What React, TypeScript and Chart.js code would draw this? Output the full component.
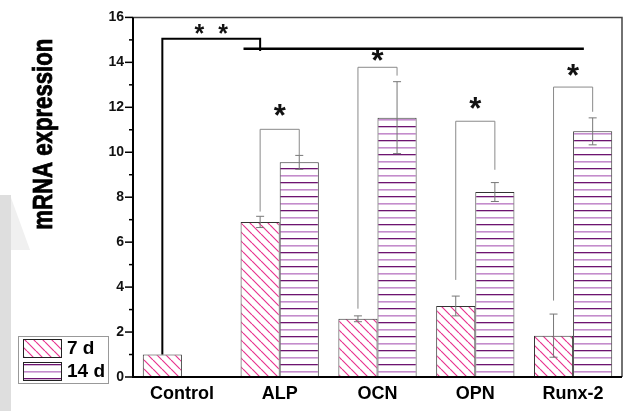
import React, { useEffect, useRef } from "react";
import { Chart, registerables } from "chart.js";

Chart.register(...registerables);

const categories = ["Control", "ALP", "OCN", "OPN", "Runx-2"];
const d7Values = [1.0, 6.9, 2.59, 3.16, 1.84];
const d7Errors = [0, 0.25, 0.13, 0.44, 0.96];
const d14Values: (number | null)[] = [null, 9.55, 11.54, 8.23, 10.93];
const d14Errors = [0, 0.31, 1.6, 0.42, 0.6];
const seriesLabels = ["7 d", "14 d"];

// significance brackets (category index, values in data units)
const bracketIndex = [1, 2, 3, 4];
const bracketTop = [11.02, 13.78, 11.38, 12.9];
const bracketLeftEnd = [7.36, 3.04, 4.32, 3.4];
const bracketRightEnd = [9.87, 13.41, 9.22, 11.8];
const starY = [11.64, 14.1, 11.99, 13.44];

// control vs. all bracket
const controlLineY = 15.05;
const groupLineY = 14.6;
const groupLineStart = 0.63;
const groupLineEnd = 4.11;
const doubleStarX = 0.3;
const doubleStarY = 15.3;

const yTitle = "mRNA expression";

function makeDiagPattern(): CanvasPattern | string {
  const c = document.createElement("canvas");
  const s = 9;
  c.width = s;
  c.height = s;
  const g = c.getContext("2d")!;
  g.fillStyle = "#ffffff";
  g.fillRect(0, 0, s, s);
  g.strokeStyle = "#e8338f";
  g.lineWidth = 1.2;
  g.beginPath();
  for (const o of [-s, 0, s]) {
    g.moveTo(o, 0);
    g.lineTo(o + s, s);
  }
  g.stroke();
  return g.createPattern(c, "repeat") || "#e8338f";
}

function makeHorzPattern(): CanvasPattern | string {
  const c = document.createElement("canvas");
  c.width = 4;
  c.height = 14;
  const g = c.getContext("2d")!;
  g.fillStyle = "#ffffff";
  g.fillRect(0, 0, 4, 14);
  g.fillStyle = "#6e1470";
  g.fillRect(0, 0, 4, 1.3);
  g.fillStyle = "#c48ccc";
  g.fillRect(0, 7, 4, 1.6);
  return g.createPattern(c, "repeat") || "#6e1470";
}

export default function App() {
  const ref = useRef<HTMLCanvasElement>(null);
  useEffect(() => {
    document.body.style.margin = "0";
    const canvas = ref.current!;
    const diag = makeDiagPattern();
    const horz = makeHorzPattern();

    const decor = {
      id: "decor",
      beforeDraw(chart: any) {
        const ctx = chart.ctx;
        ctx.save();
        ctx.fillStyle = "#ffffff";
        ctx.fillRect(0, 0, chart.width, chart.height);
        ctx.fillStyle = "#f0f0f0";
        ctx.beginPath();
        ctx.moveTo(10, 195);
        ctx.lineTo(30, 250);
        ctx.lineTo(10, 250);
        ctx.closePath();
        ctx.fill();
        ctx.fillStyle = "#dedede";
        ctx.fillRect(0, 195, 11, chart.height - 195);
        ctx.restore();
      },
      afterDatasetsDraw(chart: any) {
        const ctx = chart.ctx;
        const xs = chart.scales.x;
        const ys = chart.scales.y;
        const area = chart.chartArea;
        const m0 = chart.getDatasetMeta(0);
        const m1 = chart.getDatasetMeta(1);
        ctx.save();

        // error bars
        const drawErr = (meta: any, vals: any[], errs: number[]) => {
          vals.forEach((v, i) => {
            if (v == null || !errs[i]) return;
            const x = meta.data[i].x;
            const yt = ys.getPixelForValue(v + errs[i]);
            const yb = ys.getPixelForValue(v - errs[i]);
            ctx.strokeStyle = "#777";
            ctx.lineWidth = 1;
            ctx.beginPath();
            ctx.moveTo(x, yt);
            ctx.lineTo(x, yb);
            ctx.moveTo(x - 4, yt);
            ctx.lineTo(x + 4, yt);
            ctx.moveTo(x - 4, yb);
            ctx.lineTo(x + 4, yb);
            ctx.stroke();
          });
        };
        drawErr(m0, d7Values, d7Errors);
        drawErr(m1, d14Values, d14Errors);

        // gray brackets
        bracketIndex.forEach((ci, k) => {
          const xl = m0.data[ci].x;
          const xr = m1.data[ci].x;
          const yt = ys.getPixelForValue(bracketTop[k]);
          ctx.strokeStyle = "#8a8a8a";
          ctx.lineWidth = 1;
          ctx.beginPath();
          ctx.moveTo(xl, ys.getPixelForValue(bracketLeftEnd[k]));
          ctx.lineTo(xl, yt);
          ctx.lineTo(xr, yt);
          ctx.lineTo(xr, ys.getPixelForValue(bracketRightEnd[k]));
          ctx.stroke();
          ctx.fillStyle = "#111";
          ctx.font = "bold 31px 'Liberation Sans', Arial, sans-serif";
          ctx.textAlign = "center";
          ctx.textBaseline = "alphabetic";
          ctx.fillText("*", (xl + xr) / 2, ys.getPixelForValue(starY[k]) + 11);
        });

        // black control bracket
        const cx = m0.data[0].x;
        const ax = m0.data[1].x;
        const yc = ys.getPixelForValue(controlLineY);
        ctx.strokeStyle = "#000";
        ctx.lineWidth = 2;
        ctx.beginPath();
        ctx.moveTo(cx, ys.getPixelForValue(d7Values[0]));
        ctx.lineTo(cx, yc);
        ctx.lineTo(ax, yc);
        ctx.moveTo(ax, yc - 1);
        ctx.lineTo(ax, ys.getPixelForValue(groupLineY - 0.1));
        ctx.stroke();
        ctx.lineWidth = 2.5;
        const yg = ys.getPixelForValue(groupLineY);
        ctx.beginPath();
        ctx.moveTo(xs.getPixelForValue(groupLineStart), yg);
        ctx.lineTo(xs.getPixelForValue(groupLineEnd), yg);
        ctx.stroke();
        ctx.fillStyle = "#111";
        ctx.font = "bold 25px 'Liberation Sans', Arial, sans-serif";
        ctx.textAlign = "center";
        ctx.fillText("*  *", xs.getPixelForValue(doubleStarX), ys.getPixelForValue(doubleStarY) + 9);

        // frame
        ctx.lineWidth = 1.5;
        ctx.strokeStyle = "#444";
        ctx.beginPath();
        ctx.moveTo(area.left, area.top);
        ctx.lineTo(area.right, area.top);
        ctx.lineTo(area.right, area.bottom);
        ctx.stroke();
        ctx.lineWidth = 2;
        ctx.strokeStyle = "#000";
        ctx.beginPath();
        ctx.moveTo(area.left, area.top);
        ctx.lineTo(area.left, area.bottom);
        ctx.lineTo(area.right, area.bottom);
        ctx.stroke();

        // y ticks
        ctx.lineWidth = 1.5;
        for (let v = ys.min; v <= ys.max; v += 1) {
          const y = ys.getPixelForValue(v);
          const len = v % 2 === 0 ? 8 : 4;
          ctx.beginPath();
          ctx.moveTo(area.left - len, y);
          ctx.lineTo(area.left, y);
          ctx.stroke();
        }

        // y title
        ctx.save();
        ctx.font = "bold 27px 'Liberation Sans', Arial, sans-serif";
        const w = ctx.measureText(yTitle).width;
        ctx.translate(52, (area.top + area.bottom) / 2 - 63);
        ctx.rotate(-Math.PI / 2);
        ctx.scale(191 / w, 1);
        ctx.textAlign = "center";
        ctx.textBaseline = "alphabetic";
        ctx.fillStyle = "#000";
        ctx.lineWidth = 0.8;
        ctx.strokeStyle = "#000";
        ctx.fillText(yTitle, 0, 0);
        ctx.strokeText(yTitle, 0, 0);
        ctx.restore();

        // legend
        ctx.fillStyle = "#fff";
        ctx.fillRect(18, 336, 90, 47);
        ctx.strokeStyle = "#999";
        ctx.lineWidth = 1;
        ctx.strokeRect(18.5, 336.5, 90, 47);
        const sw = [diag, horz];
        seriesLabels.forEach((lab, i) => {
          const y0 = 339 + i * 23;
          ctx.fillStyle = sw[i];
          ctx.fillRect(23, y0, 38, 18);
          ctx.strokeStyle = "#222";
          ctx.lineWidth = 1;
          ctx.strokeRect(23.5, y0 + 0.5, 38, 18);
          ctx.fillStyle = "#000";
          ctx.font = "bold 19px 'Liberation Sans', Arial, sans-serif";
          ctx.textAlign = "left";
          ctx.textBaseline = "middle";
          ctx.fillText(lab, 67, y0 + 10);
        });
        ctx.restore();
      },
    };

    const chart = new Chart(canvas, {
      type: "bar",
      data: {
        labels: categories,
        datasets: [
          {
            label: seriesLabels[0],
            data: d7Values,
            backgroundColor: diag as any,
            borderColor: "#333",
            borderWidth: 1,
            barPercentage: 1.0,
            categoryPercentage: 0.8,
          },
          {
            label: seriesLabels[1],
            data: d14Values as any,
            backgroundColor: horz as any,
            borderColor: "#333",
            borderWidth: 1,
            barPercentage: 1.0,
            categoryPercentage: 0.8,
          },
        ],
      },
      options: {
        responsive: false,
        animation: false,
        layout: { padding: { top: 14, right: 3, left: 0, bottom: 0 } },
        plugins: { legend: { display: false }, tooltip: { enabled: false } },
        scales: {
          x: {
            grid: { display: false, drawTicks: false },
            border: { display: false },
            ticks: {
              color: "#000",
              padding: 6,
              font: { family: "'Liberation Sans', Arial, sans-serif", size: 18, weight: "bold" },
            },
            afterFit: (s: any) => {
              s.height = 34;
            },
          },
          y: {
            min: 0,
            max: 16,
            grid: { display: false, drawTicks: false },
            border: { display: false },
            ticks: {
              stepSize: 2,
              color: "#111",
              padding: 9,
              font: { family: "'Liberation Sans', Arial, sans-serif", size: 14, weight: "bold" },
            },
            afterFit: (s: any) => {
              s.width = 133;
            },
          },
        },
      },
      plugins: [decor],
    });
    return () => chart.destroy();
  }, []);
  return <canvas ref={ref} width={625} height={411} style={{ display: "block" }} />;
}
